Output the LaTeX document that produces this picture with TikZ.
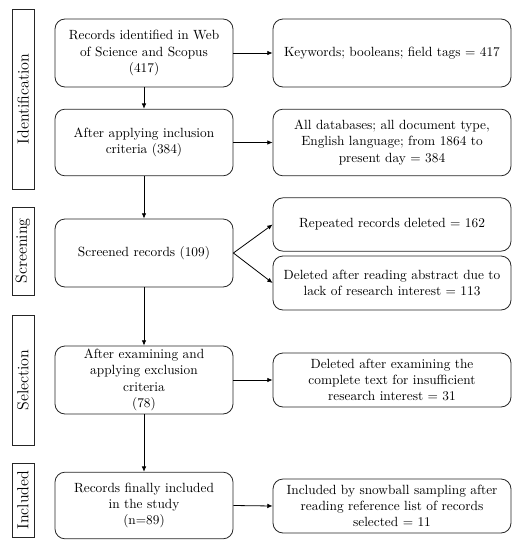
\documentclass[tikz,border=0pt]{standalone}
\usetikzlibrary{arrows.meta}
\begin{document}
\begin{tikzpicture}[x=0.75pt,y=-0.75pt,
  box/.style={draw=black!85, line width=0.6pt, rounded corners=7.5pt, align=center, inner sep=0pt, font=\fontsize{10}{12.2}\selectfont},
  lbox/.style={box, minimum width=133.5pt},
  rbox/.style={box, minimum width=178.5pt},
  stage/.style={draw=black!85, line width=0.6pt, rotate=90, minimum height=16.5pt, inner sep=0pt, font=\fontsize{12}{14}\selectfont},
  arr/.style={-{Latex[length=4pt,width=3.5pt]}, line width=0.6pt}]
\useasboundingbox (0,0) rectangle (526,550);
% stages
\node[stage, minimum width=135pt] (s1) at (23,99) {Identification};
\node[stage, minimum width=66pt] (s2) at (23,251) {Screening};
\node[stage, minimum width=97.5pt] (s3) at (23,380) {Selection};
\node[stage, minimum width=55.5pt] (s4) at (23,500) {Included};
% left boxes
\node[lbox, minimum height=51pt] (a1) at (144,53) {Records identified in Web\\of Science and Scopus\\(417)};
\node[lbox, minimum height=50pt] (a2) at (144,142.5) {After applying inclusion\\criteria (384)};
\node[lbox, minimum height=51pt] (a3) at (144,253) {Screened records (109)};
\node[lbox, minimum height=51pt] (a4) at (144,380) {After examining and\\applying exclusion\\criteria\\(78)};
\node[lbox, minimum height=50pt] (a5) at (144,505.5) {Records finally included\\in the study\\(n=89)};
% right boxes
\node[rbox, minimum height=51pt] (b1) at (392,53) {Keywords; booleans; field tags = 417};
\node[rbox, minimum height=50pt] (b2) at (392,142.5) {All databases; all document type,\\English language; from 1864 to\\present day = 384};
\node[rbox, minimum height=40pt] (b3) at (392,224.5) {Repeated records deleted = 162};
\node[rbox, minimum height=40.5pt] (b4) at (392,283) {Deleted after reading abstract due to\\lack of research interest = 113};
\node[rbox, minimum height=40.5pt] (b5) at (392,380) {Deleted after examining the\\complete text for insufficient\\research interest = 31};
\node[rbox, minimum height=40.5pt] (b6) at (392,506) {Included by snowball sampling after\\reading reference list of records\\selected = 11};
% arrows
\draw[arr] (a1) -- (a2);
\draw[arr] (a2) -- (a3);
\draw[arr] (a3) -- (a4);
\draw[arr] (a4) -- (a5);
\draw[arr] (a1.east) -- (b1.west);
\draw[arr] (a2.east) -- (b2.west);
\draw[arr] (a3.east) -- (b3.west);
\draw[arr] (a3.east) -- (b4.west);
\draw[arr] (a4.east) -- (b5.west);
\draw[arr] (a5.east) -- (b6.west);
\end{tikzpicture}
\end{document}
